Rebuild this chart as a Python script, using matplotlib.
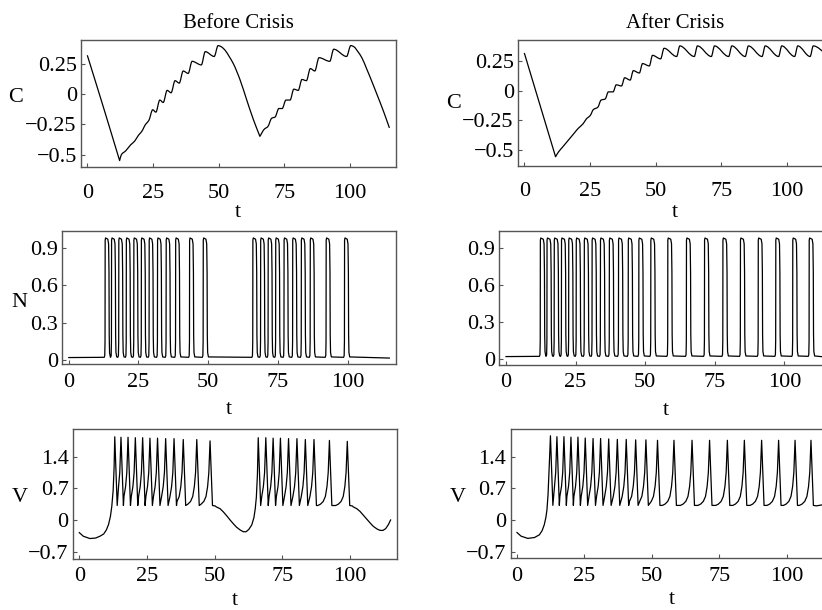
import matplotlib
matplotlib.use("Agg")
import matplotlib.pyplot as plt
from matplotlib.path import Path
from matplotlib.patches import PathPatch

plt.rcParams['font.family'] = ['Liberation Serif', 'DejaVu Serif']

# ---------------- data ----------------
T_END = 115.0
x_ticks = [0, 25, 50, 75, 100]
x_tick_labels = ["0", "25", "50", "75", "100"]
c_ticks = [-0.5, -0.25, 0, 0.25]
c_tick_labels = ["\u22120.5", "\u22120.25", "0", "0.25"]
n_ticks = [0, 0.3, 0.6, 0.9]
n_tick_labels = ["0", "0.3", "0.6", "0.9"]
v_ticks = [-0.7, 0, 0.7, 1.4]
v_tick_labels = ["\u22120.7", "0", "0.7", "1.4"]

# spike times (V peaks / N onsets)
spikes_before = [13.1, 15.4, 18.0, 20.7, 23.4, 26.1, 28.9, 31.9, 35.0, 38.4, 43.4, 48.3,
                 66.1, 68.9, 71.6, 74.3, 77.3, 80.4, 83.5, 86.7, 92.4, 99.0]
vpeak_before = [1.84, 1.83, 1.83, 1.82, 1.82, 1.81, 1.81, 1.80, 1.80, 1.78, 1.78, 1.75,
                1.82, 1.82, 1.81, 1.81, 1.80, 1.80, 1.78, 1.78, 1.76, 1.74]
spikes_after = [12.4, 14.8, 17.4, 20.0, 22.6, 25.3, 28.2, 31.0, 34.0, 37.2, 40.5, 44.0,
                47.8, 52.1, 58.2, 64.9, 71.4, 78.0, 84.3, 90.7, 97.0, 103.1, 109.0]
vpeak_after = [1.86, 1.84, 1.84, 1.83, 1.83, 1.81, 1.80, 1.80, 1.79, 1.78, 1.78, 1.77,
               1.77, 1.76, 1.76, 1.76, 1.76, 1.76, 1.76, 1.76, 1.76, 1.76, 1.76]

# V in the quiet phases (outside the spikes)
v_rest_before_t = [0, 1.5, 3.9, 6.0, 7.6, 9.0, 10.0, 10.8, 11.5, 12.0, 12.5, 12.85,
                   50.2, 50.6, 52.0, 53.2, 54.5, 55.7, 57.0, 58.1, 59.4, 60.6, 61.6, 62.6,
                   63.7, 64.5, 65.0, 65.4, 65.8,
                   100.9, 101.2, 102.5, 103.7, 105.0, 106.2, 107.5, 108.6, 110.0, 111.1,
                   112.2, 113.2, 114.2, 115.0]
v_rest_before_v = [-0.28, -0.36, -0.41, -0.40, -0.36, -0.31, -0.22, -0.10, 0.08, 0.30, 0.65, 1.15,
                   0.31, 0.29, 0.25, 0.18, 0.09, 0.0, -0.09, -0.16, -0.22, -0.26, -0.26, -0.21,
                   -0.11, 0.05, 0.25, 0.5, 1.0,
                   0.31, 0.29, 0.25, 0.19, 0.10, 0.02, -0.07, -0.14, -0.20, -0.23,
                   -0.23, -0.19, -0.10, 0.0]
v_rest_after_t = [0, 1.5, 4.0, 6.5, 8.3, 9.3, 10.1, 10.7, 11.1, 11.5, 11.8, 12.1,
                  111.0, 113.0, 115.0]
v_rest_after_v = [-0.28, -0.36, -0.41, -0.39, -0.33, -0.24, -0.11, 0.05, 0.22, 0.55, 0.96, 1.40,
                  0.31, 0.33, 0.38]

# V spike shape
V_DOWN = 0.9
V_LOW = 0.32
V_APPROACH_D = [0.45, 0.9, 1.5, 2.3, 3.3, 4.3]
V_APPROACH_V = [1.05, 0.74, 0.52, 0.41, 0.35, 0.32]

# N pulse shape
N_BASE = 0.02
N_RISE_DT = [-0.3, -0.1, 0.0, 0.05, 0.2]
N_RISE_V = [0.022, 0.035, 0.15, 0.96, 0.978]
N_FALL_DT = [-0.5, -0.22, -0.08, 0.0, 0.12, 0.4]
N_FALL_V = [0.968, 0.93, 0.70, 0.20, 0.06, 0.025]
n_width_before = 1.5
n_width_after = 1.6

# C traces
c_before_t = [0, 6, 12.3, 13.0, 14.6, 16.5, 18.0, 19.5, 20.7, 22.2, 23.4, 24.9, 26.1, 27.6,
              28.9, 30.4, 31.9, 33.4, 35.0, 36.5, 38.4, 39.9, 43.4, 44.9, 48.3, 49.8, 51.0,
              52.5, 54.0, 55.6, 58.1, 60.7, 63.2, 65.7, 67.4, 68.7, 70.2, 71.5, 72.9, 74.2,
              75.6, 77.2, 78.6, 80.3, 81.7, 83.4, 84.9, 86.6, 88.2, 92.3, 93.8, 98.7, 100.3,
              101.5, 103.0, 104.5, 106.3, 108.2, 110.2, 112.7, 115.0]
c_before_v = [0.32, -0.10, -0.55, -0.50, -0.47, -0.42, -0.39, -0.34, -0.31, -0.25, -0.22, -0.13,
              -0.15, -0.05, -0.07, 0.03, 0.01, 0.11, 0.09, 0.19, 0.17, 0.27, 0.24, 0.35, 0.31,
              0.40, 0.39, 0.36, 0.31, 0.25, 0.12, -0.05, -0.21, -0.35, -0.29, -0.27, -0.20,
              -0.19, -0.12, -0.12, -0.05, -0.05, 0.04, 0.03, 0.12, 0.11, 0.21, 0.19, 0.30,
              0.27, 0.37, 0.31, 0.40, 0.39, 0.35, 0.30, 0.21, 0.11, 0.00, -0.14, -0.28]
c_after_t = [0, 11.9, 13.0, 14.5, 16.0, 17.5, 19.0, 20.5, 22.4, 23.6, 25.1, 26.3, 28.0, 29.2,
             30.8, 32.0, 33.8, 35.0, 37.0, 38.2, 40.3, 41.5, 43.8, 45.0, 47.6, 48.8, 51.9, 53.2,
             58.0, 59.2, 64.7, 65.9, 71.2, 72.4, 77.8, 79.0, 84.1, 85.3, 90.5, 91.7, 96.8, 98.0,
             102.9, 104.1, 108.8, 110.0, 115.0]
c_after_v = [0.32, -0.56, -0.52, -0.48, -0.44, -0.40, -0.36, -0.32, -0.28, -0.24, -0.21, -0.16,
             -0.14, -0.08, -0.07, -0.01, -0.01, 0.05, 0.04, 0.11, 0.09, 0.17, 0.15, 0.23, 0.21,
             0.30, 0.27, 0.36, 0.29, 0.38, 0.29, 0.38, 0.29, 0.38, 0.29, 0.38, 0.29, 0.38,
             0.29, 0.38, 0.29, 0.38, 0.29, 0.38, 0.29, 0.38, 0.31]


# ---------------- trace builders ----------------
def build_n(spikes, width):
    pts = [(0.0, N_BASE)]
    for ts in spikes:
        on = ts - 0.1
        for dt, val in zip(N_RISE_DT, N_RISE_V):
            pts.append((on + dt, val))
        off = on + width
        for dt, val in zip(N_FALL_DT, N_FALL_V):
            pts.append((off + dt, val))
    pts.append((T_END, N_BASE * 0.8))
    pts.sort()
    return [p[0] for p in pts], [p[1] for p in pts]


def build_v(spikes, peaks, rest_t, rest_v):
    pts = list(zip(rest_t, rest_v))
    for i, ts in enumerate(spikes):
        pts.append((ts, peaks[i]))
        pts.append((ts + V_DOWN, V_LOW))
        if i + 1 < len(spikes) and spikes[i + 1] - ts < 8:
            tn = spikes[i + 1]
            for d, val in zip(V_APPROACH_D, V_APPROACH_V):
                if tn - d > ts + V_DOWN + 0.15:
                    pts.append((tn - d, val))
    pts.sort()
    return [p[0] for p in pts], [p[1] for p in pts]


def smooth_path(x, y, corner_slope=0.03):
    """Monotone cubic (Bezier) path through the read points; sharp turns stay sharp."""
    n = len(x)
    h = [x[i + 1] - x[i] for i in range(n - 1)]
    d = [(y[i + 1] - y[i]) / h[i] for i in range(n - 1)]
    m_in = [0.0] * n
    m_out = [0.0] * n
    m_in[0] = m_out[0] = d[0]
    m_in[-1] = m_out[-1] = d[-1]
    for i in range(1, n - 1):
        if d[i - 1] * d[i] <= 0:
            if abs(d[i - 1]) > corner_slope and abs(d[i]) > corner_slope:
                m_in[i], m_out[i] = d[i - 1], d[i]
            else:
                m_in[i] = m_out[i] = 0.0
        else:
            w1 = 2 * h[i] + h[i - 1]
            w2 = h[i] + 2 * h[i - 1]
            m_in[i] = m_out[i] = (w1 + w2) / (w1 / d[i - 1] + w2 / d[i])
    verts = [(x[0], y[0])]
    codes = [Path.MOVETO]
    for i in range(n - 1):
        verts += [(x[i] + h[i] / 3, y[i] + m_out[i] * h[i] / 3),
                  (x[i + 1] - h[i] / 3, y[i + 1] - m_in[i + 1] * h[i] / 3),
                  (x[i + 1], y[i + 1])]
        codes += [Path.CURVE4] * 3
    return Path(verts, codes)


nb_t, nb_v = build_n(spikes_before, n_width_before)
na_t, na_v = build_n(spikes_after, n_width_after)
vb_t, vb_v = build_v(spikes_before, vpeak_before, v_rest_before_t, v_rest_before_v)
va_t, va_v = build_v(spikes_after, vpeak_after, v_rest_after_t, v_rest_after_v)

# ---------------- figure ----------------
W, H = 822, 610
fig = plt.figure(figsize=(W / 100, H / 100), dpi=100)
XMIN, XMAX = -2.4, 117.4
FS = 16
FRAME = '#555555'


def add_ax(px0, px100, top, bottom, xpad):
    s = (px100 - px0) / 100.0
    left = px0 + XMIN * s
    right = px0 + XMAX * s
    ax = fig.add_axes([left / W, 1 - bottom / H, (right - left) / W, (bottom - top) / H])
    ax.set_xlim(XMIN, XMAX)
    for sp in ax.spines.values():
        sp.set_color(FRAME)
        sp.set_linewidth(1.0)
    ax.tick_params(direction='in', length=3, width=0.8, colors=FRAME, labelcolor='black',
                   labelsize=FS, top=False, right=False)
    ax.tick_params(axis='x', pad=xpad)
    ax.tick_params(axis='y', pad=3)
    ax.set_xticks(x_ticks)
    ax.set_xticklabels(x_tick_labels)
    return ax, (left + right) / 2.0


panels = [
    # px0, px100, top, bottom, ylim, trace, ticks, labels, x-label pad, smooth, t-label offset
    (87.3, 350.0, 40.0, 167.0, (-0.603, 0.446), (c_before_t, c_before_v), c_ticks, c_tick_labels, 12, True, 50),
    (68.8, 347.5, 230.7, 364.3, (-0.034, 1.036), (nb_t, nb_v), n_ticks, n_tick_labels, 6, False, 50),
    (79.3, 350.0, 429.3, 559.0, (-0.863, 2.006), (vb_t, vb_v), v_ticks, v_tick_labels, 6, False, 46),
    (524.3, 787.0, 40.0, 165.7, (-0.636, 0.43), (c_after_t, c_after_v), c_ticks, c_tick_labels, 12, True, 51),
    (506.0, 784.3, 230.7, 365.0, (-0.048, 1.037), (na_t, na_v), n_ticks, n_tick_labels, 6, False, 50),
    (517.0, 786.7, 429.0, 558.3, (-0.85, 2.01), (va_t, va_v), v_ticks, v_tick_labels, 6, False, 46),
]

for px0, px100, top, bottom, ylim, (tt, yy), yt, ytl, xpad, smooth, toff in panels:
    ax, cx = add_ax(px0, px100, top, bottom, xpad)
    if smooth:
        ax.add_patch(PathPatch(smooth_path(tt, yy), fill=False, edgecolor='black',
                               lw=0.9, joinstyle='round'))
    else:
        ax.plot(tt, yy, color='black', lw=0.9, solid_joinstyle='round')
    ax.set_ylim(*ylim)
    ax.set_yticks(yt)
    ax.set_yticklabels(ytl)
    fig.text(cx / W, 1 - (bottom + toff) / H, "t", ha='center', va='baseline', fontsize=FS)


def ftext(x, y, s, size=FS):
    fig.text(x / W, 1 - y / H, s, ha='center', va='baseline', fontsize=size)


ftext(238.3, 28.3, "Before Crisis", 15)
ftext(675.2, 28.3, "After Crisis", 15)
ftext(15.5, 101.7, "C")
ftext(19.3, 306.7, "N")
ftext(20.0, 502.0, "V")
ftext(454.0, 108.0, "C")
ftext(457.5, 502.0, "V")

fig.savefig("out.png", dpi=100)
